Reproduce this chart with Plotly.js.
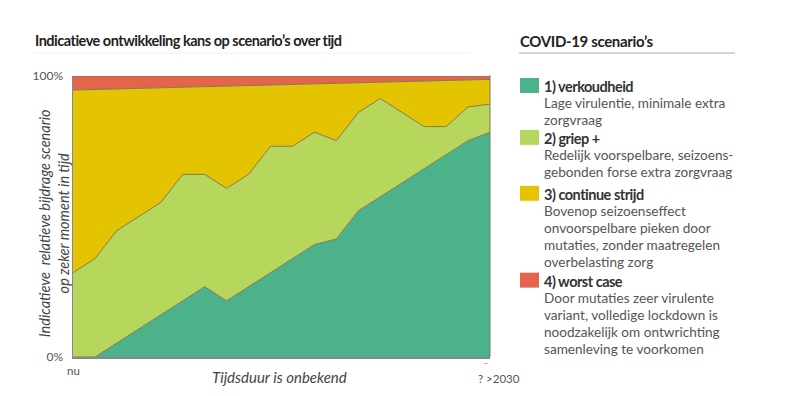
<!DOCTYPE html>
<html><head><meta charset="utf-8">
<script src="https://cdn.plot.ly/plotly-3.0.1.min.js"></script>
<style>html,body{margin:0;padding:0;background:#fff;}#chart{width:785px;height:396px;}</style>
</head><body><div id="chart"></div>
<script>
// time steps (nu ... ? >2030)
const steps = [0,1,2,3,4,5,6,7,8,9,10,11,12,13,14,15,16,17,18,19];
const tickLabels = ['nu', '? >2030'];
// share per scenario (%) at each time step
const verkoudheid = [0,0,5,10,15,20,25,20,25,30,35,40,42,52,57,62,67,72,77,80];
const griep = [30,35,40,40,40,45,40,40,40,45,40,40,35,35,35,25,15,10,12,10];
const continueStrijd = [65,60.2,50.4,45.6,40.8,31,31.2,36.4,31.6,21.8,22,17.2,20.4,10.6,5.8,11,16.2,16.4,9.6,8.8];
const worstCase = [5,4.8,4.6,4.4,4.2,4,3.8,3.6,3.4,3.2,3,2.8,2.6,2.4,2.2,2,1.8,1.6,1.4,1.2];
const names = ['1) verkoudheid','2) griep +','3) continue strijd','4) worst case'];
const descriptions = [
  ['Lage virulentie, minimale extra','zorgvraag'],
  ['Redelijk voorspelbare, seizoens-','gebonden forse extra zorgvraag'],
  ['Bovenop seizoenseffect','onvoorspelbare pieken door','mutaties, zonder maatregelen','overbelasting zorg'],
  ['Door mutaties zeer virulente','variant, volledige lockdown is','noodzakelijk om ontwrichting','samenleving te voorkomen']
];
const colors = ['#4cb28a','#b6d75b','#e4c300','#e4654b'];
const series = [verkoudheid, griep, continueStrijd, worstCase];

const W = 785, H = 396;
const L = 73, R = 490, T = 76, B = 357.5;
const px = x => (x - L) / (R - L);
const py = y => (B - y) / (B - T);

const traces = series.map((s, i) => ({
  x: steps, y: s, name: names[i], type: 'scatter', mode: 'lines',
  stackgroup: 'one', fillcolor: colors[i],
  line: {color: '#7d7a5c', width: 1},
  hoverinfo: 'skip', showlegend: false
}));

const font = 'Lato, "Open Sans", sans-serif';
const tight = (t, ls) => '<span style="letter-spacing:' + ls + 'px">' + t + '</span>';
const annotations = [];
const shapes = [];

annotations.push({xref:'paper', yref:'paper', x:px(33), y:py(40), xanchor:'left', yanchor:'middle',
  text:tight('<b>Indicatieve ontwikkeling kans op scenario’s over tijd</b>', -0.5), showarrow:false,
  font:{family:font, size:14.5, color:'#222', weight:900}});
annotations.push({xref:'paper', yref:'paper', x:px(518), y:py(41), xanchor:'left', yanchor:'middle',
  text:tight('<b>COVID-19 scenario’s</b>', -0.35), showarrow:false,
  font:{family:font, size:15, color:'#222', weight:900}});
shapes.push({type:'line', xref:'paper', yref:'paper', x0:px(33), x1:px(470), y0:py(53), y1:py(53),
  line:{color:'#f0f0f0', width:1}});
shapes.push({type:'line', xref:'paper', yref:'paper', x0:px(519), x1:px(735), y0:py(53), y1:py(53),
  line:{color:'#aaaaaa', width:1}});

// custom tick labels
annotations.push({xref:'paper', yref:'paper', x:px(73), y:py(371), xanchor:'center', yanchor:'middle',
  text:tickLabels[0], showarrow:false, font:{family:font, size:11.5, color:'#555'}});
annotations.push({xref:'paper', yref:'paper', x:px(499), y:py(379), xanchor:'center', yanchor:'middle',
  text:tickLabels[1], showarrow:false, font:{family:font, size:11.5, color:'#555'}});
shapes.push({type:'line', xref:'paper', yref:'paper', x0:px(484), x1:px(488), y0:py(364), y1:py(364),
  line:{color:'#bbb', width:1}});
annotations.push({xref:'paper', yref:'paper', x:px(279), y:py(378), xanchor:'center', yanchor:'middle',
  text:'<i>Tijdsduur is onbekend</i>', showarrow:false, font:{family:font, size:15, color:'#444'}});
annotations.push({xref:'paper', yref:'paper', x:px(53.5), y:py(224), xanchor:'center', yanchor:'middle',
  textangle:-90, text:'<i>Indicatieve  relatieve bijdrage scenario<br>op zeker moment in tijd</i>',
  showarrow:false, font:{family:font, size:14.5, color:'#444'}});

// legend
const sqY = [85.5, 137.5, 193.5, 280.5];
sqY.forEach((cy, i) => {
  shapes.push({type:'rect', xref:'paper', yref:'paper', x0:px(520), x1:px(539), y0:py(cy-7.5), y1:py(cy+7.5),
    fillcolor:colors[i], line:{width:0}});
  annotations.push({xref:'paper', yref:'paper', x:px(542), y:py(cy+1), xanchor:'left', yanchor:'middle',
    text:tight('<b>'+names[i]+'</b>', -0.5), showarrow:false, font:{family:font, size:14.5, color:'#333', weight:900}});
  descriptions[i].forEach((d, j) => {
    annotations.push({xref:'paper', yref:'paper', x:px(542), y:py(cy + 18 + j*17), xanchor:'left', yanchor:'middle',
      text:d, showarrow:false, font:{family:font, size:13.6, color:'#555'}});
  });
});
// right border of plot
shapes.push({type:'line', xref:'paper', yref:'paper', x0:1, x1:1, y0:0, y1:py(75),
  line:{color:'#7d7a5c', width:1}});

const layout = {
  width: W, height: H,
  margin: {l: L, r: W - R, t: T, b: H - B},
  paper_bgcolor: '#fff', plot_bgcolor: '#fff',
  showlegend: false,
  xaxis: {range: [0, 19], showgrid: false, zeroline: false, showticklabels: false,
    showline: true, linecolor: '#888', linewidth: 1.5, ticks: ''},
  yaxis: {range: [0, 100], showgrid: false, zeroline: false, tickvals: [0, 100], ticktext: ['0%', '100%'],
    showline: true, linecolor: '#888', linewidth: 1.5, ticks: '', ticklen: 0, ticklabelstandoff: 6,
    tickfont: {family: font, size: 12, color: '#555'}},
  annotations: annotations, shapes: shapes,
  font: {family: font}
};
Plotly.newPlot('chart', traces, layout, {displayModeBar: false, staticPlot: true});
</script></body></html>
